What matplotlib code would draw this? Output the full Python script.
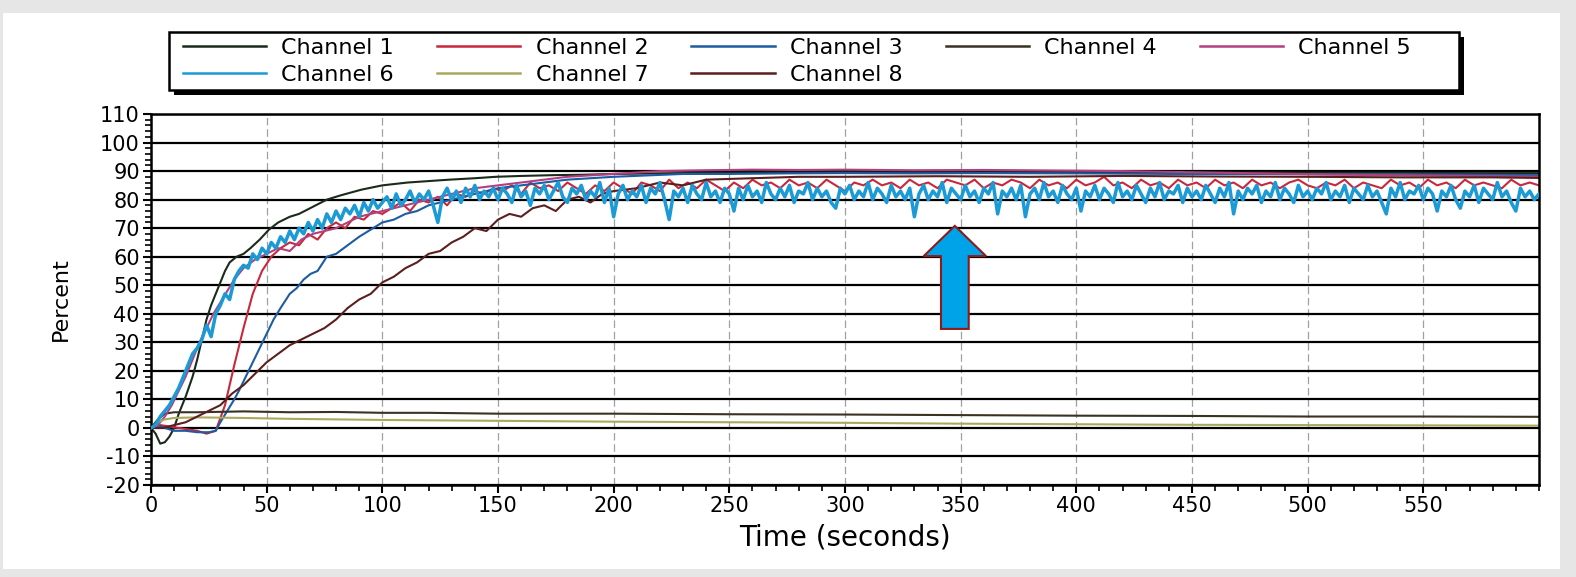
import numpy as np
import matplotlib.pyplot as plt
from matplotlib.patches import Rectangle, FancyArrow
from matplotlib.ticker import MultipleLocator

plt.rcParams['axes.unicode_minus'] = False

# values: percent vs time (seconds)
t_ch1 = [0, 2, 4, 6, 8, 10, 12, 15, 18, 20, 22, 24, 26, 28, 30, 32, 34, 37, 40, 43,
         47, 51, 55, 60, 64, 70, 76, 82, 91, 100, 111, 120, 129, 140, 149, 160, 175, 186, 200, 220,
         240, 260, 280, 300, 330, 360, 390, 420, 450, 480, 510, 540, 570, 600]
v_ch1 = [0, -2, -5.5, -5, -3, 0, 5, 11, 18, 24, 31, 38, 43, 47, 51, 55, 58, 60, 61, 63,
         66, 69.5, 72, 74, 75, 77.5, 80, 81.5, 83.5, 85, 86, 86.5, 87, 87.5, 88, 88.3, 88.6, 88.7, 89, 89.2,
         89.4, 89.5, 89.5, 89.6, 89.5, 89.6, 89.5, 89.5, 89.4, 89.5, 89.4, 89.4, 89.3, 89.3]

t_ch2 = np.arange(0, 601, 4)
v_ch2 = [0, 1, 0.5, 0, -0.5, -1, -2, -1, 8, 22,
         35, 47, 55, 60, 63, 65, 64, 68, 66, 70,
         72, 70, 74, 73, 76, 75, 77, 79, 76, 80,
         79, 81, 78, 82, 81, 83, 82, 84,
         83, 85, 82, 86, 84, 85, 83, 86, 84, 82,
         85, 83, 86, 84, 82, 86, 85, 83, 87, 84,
         86, 84, 87, 85, 83, 86, 84, 87, 85, 86,
         84, 87, 85, 86, 84, 87, 85, 83, 86, 85,
         87, 85, 86, 84, 87, 85, 86, 84, 87, 86,
         85, 87, 84, 86, 85, 87, 86, 84, 87, 85,
         86, 84, 87, 85, 86, 88, 85, 86, 84, 87,
         85, 86, 84, 87, 85, 86, 84, 87, 85, 86,
         84, 87, 85, 86, 84, 86, 87, 85, 84, 86,
         85, 87, 84, 86, 85, 84, 87, 85, 86, 84,
         87, 85, 86, 84, 87, 85, 86, 85, 84, 87,
         85, 86, 85]

t_ch3 = [0, 3, 6, 10, 15, 20, 25, 28, 30, 33, 36, 38, 41, 44, 47, 50, 53, 56, 60, 63,
         66, 69, 72, 76, 80, 85, 90, 96, 100, 105, 110, 115, 120, 125, 130, 140, 150, 160, 170, 180,
         190, 200, 215, 230, 250, 275, 300, 330, 360, 400, 440, 480, 520, 560, 600]
v_ch3 = [0, 1, 0, -1, -1, -1.5, -1.5, -1, 2, 6, 10, 13, 18, 23, 28, 33, 38, 42, 47, 49,
         52, 54, 55, 60, 61, 64, 67, 70, 72, 73, 75, 76, 78, 79, 80, 82, 84, 85, 86, 87,
         87.5, 88, 88.5, 89, 89, 89.2, 89.3, 89.2, 89.3, 89.2, 89, 89, 88.8, 88.8, 88.6]

t_ch4 = [0, 3, 6, 10, 20, 40, 60, 80, 100, 120, 150, 200, 250, 300, 350, 400, 450, 500, 550, 600]
v_ch4 = [0, 3, 5, 5.5, 5.5, 5.8, 5.5, 5.6, 5.3, 5.3, 5.0, 5.0, 4.8, 4.7, 4.5, 4.3, 4.2, 4.0, 4.0, 3.9]

t_ch5 = [0, 3, 6, 9, 12, 15, 18, 21, 24, 27, 30, 33, 36, 40, 45, 50, 55, 60, 65, 70,
         75, 80, 85, 90, 95, 100, 110, 120, 130, 140, 150, 160, 170, 180, 190, 200, 210, 220, 240, 260,
         280, 300, 330, 360, 390, 420, 450, 480, 510, 540, 570, 600]
v_ch5 = [0, 1, 4, 8, 13, 18, 24, 30, 35, 40, 44, 48, 52, 56, 59, 61, 63, 62, 66, 68,
         69, 70, 72, 74, 75, 76, 78, 80, 82, 84, 85, 86, 87, 88, 88.5, 89, 89.5, 90, 90.3, 90.5,
         90.4, 90.5, 90.3, 90.4, 90.2, 90, 89.6, 89.2, 88.8, 88.5, 88.3, 88]

t_ch6 = np.arange(0, 601, 2)
v_ch6 = [0, 1, 4, 6, 8, 11, 14, 18, 22, 26,
         28, 31, 36, 32, 40, 43, 47, 45, 52, 55,
         57, 56, 61, 59, 63, 61, 65, 63, 67, 65,
         69, 66, 70, 68, 72, 69, 73, 70, 75, 72,
         76, 73, 77, 75, 78, 74, 79, 76, 80, 77,
         79, 81, 77, 82, 78, 80, 83, 79, 82, 80,
         83, 78, 72, 81, 84, 80, 83, 79, 84, 81,
         85, 80, 83, 81, 84,
         80, 84, 82, 79, 85, 81, 83, 78, 84, 82,
         85, 80, 83, 86, 81, 79, 84, 82, 85, 80,
         83, 81, 86, 79, 84, 74, 82, 85, 80, 83,
         81, 85, 79, 84, 82, 86, 80, 73, 83, 81,
         84, 79, 85, 82, 80, 86, 81, 83, 79, 84,
         82, 76, 84, 80, 85, 81, 83, 79, 86, 82,
         80, 84, 81, 85, 79, 83, 82, 86, 80, 84,
         81, 83, 79, 77, 84, 82, 85, 80, 83, 81,
         86, 80, 84, 82, 79, 85, 81, 83, 80, 84,
         74, 82, 85, 80, 83, 81, 86, 79, 84, 82,
         80, 85, 81, 83, 79, 84, 82, 86, 75, 83,
         81, 84, 80, 85, 74, 82, 84, 80, 86, 81,
         83, 79, 85, 82, 80, 84, 76, 83, 81, 85,
         80, 84, 82, 79, 86, 81, 83, 80, 85, 82,
         79, 84, 81, 86, 80, 83, 82, 85, 79, 84,
         81, 83, 80, 85, 82, 79, 84, 81, 86, 75,
         83, 80, 84, 82, 85, 79, 83, 81, 86, 80,
         84, 82, 79, 85, 81, 83, 80, 84, 82, 86,
         80, 83, 81, 85, 79, 84, 82, 80, 85, 81,
         83, 79, 75, 84, 81, 86, 80, 83, 82, 85,
         80, 84, 82, 76, 83, 81, 85, 80, 77, 83,
         81, 85, 79, 84, 82, 80, 86, 81, 83, 79,
         76, 84, 81, 83, 80, 82]

t_ch7 = [0, 3, 6, 10, 20, 40, 60, 80, 100, 150, 200, 250, 300, 350, 400, 450, 500, 550, 600]
v_ch7 = [0, 2, 3, 3.5, 3.7, 3.5, 3.2, 3.0, 2.8, 2.5, 2.2, 2.0, 1.8, 1.5, 1.3, 1.1, 1.0, 0.9, 0.8]

t_ch8 = [0, 5, 10, 15, 20, 25, 30, 35, 40, 45, 50, 55, 60, 65, 70, 75, 80, 85, 90, 95,
         100, 105, 110, 115, 120, 125, 130, 135, 140, 145, 150, 155, 160, 165, 170, 175, 180, 185, 190, 195,
         200, 210, 220, 230, 240, 260, 280, 300, 340, 380, 420, 460, 500, 540, 580, 600]
v_ch8 = [0, 0, 1, 2, 4, 6, 8, 12, 15, 19, 23, 26, 29, 31, 33, 35, 38, 42, 45, 47,
         51, 53, 56, 58, 61, 62, 65, 67, 70, 69, 73, 75, 74, 77, 78, 76, 80, 81, 79, 82,
         83, 84, 86, 85, 87, 87.5, 88, 88, 88.2, 88, 88.3, 88.1, 88, 87.8, 87.8, 87.6]

names = ['Channel 1', 'Channel 2', 'Channel 3', 'Channel 4',
         'Channel 5', 'Channel 6', 'Channel 7', 'Channel 8']
colors = ['#1a2b1c', '#c8283c', '#1d5ba3', '#3a3322',
          '#b3407e', '#1b9ad6', '#a9a95e', '#5b1f1f']
series = [(t_ch1, v_ch1), (t_ch2, v_ch2), (t_ch3, v_ch3), (t_ch4, v_ch4),
          (t_ch5, v_ch5), (t_ch6, v_ch6), (t_ch7, v_ch7), (t_ch8, v_ch8)]

fig = plt.figure(figsize=(15.76, 5.77), dpi=100, facecolor='#e6e6e6')
# white panel inside the grey border
fig.add_artist(Rectangle((0.0019, 0.0139), 0.988, 0.9636, transform=fig.transFigure,
                         fc='white', ec='none', zorder=-1))

ax = fig.add_axes([0.0958, 0.1594, 0.8807, 0.6430])

handles = []
for i, (t, v) in enumerate(series):
    lw = 2.5 if i == 5 else 1.5
    z = 3 if i == 5 else 2
    h, = ax.plot(t, v, color=colors[i], lw=lw, label=names[i], zorder=z)
    handles.append(h)

ax.set_xlim(0, 600)
ax.set_ylim(-20, 110)
ax.set_xticks(range(0, 551, 50))
ax.set_yticks(range(-20, 111, 10))
ax.xaxis.set_minor_locator(MultipleLocator(10))
ax.yaxis.set_minor_locator(MultipleLocator(2))
ax.tick_params(which='major', direction='out', length=6, width=1.5, labelsize=15, pad=2)
ax.tick_params(which='minor', direction='out', length=4, width=1.2)
for s in ax.spines.values():
    s.set_linewidth(1.8)

ax.set_axisbelow(True)
ax.yaxis.grid(True, which='major', color='black', lw=1.6)
ax.xaxis.grid(True, which='major', color='#a0a0a0', lw=0.9, ls=(0, (6, 3)))

ax.set_xlabel('Time (seconds)', fontsize=20)
ax.xaxis.set_label_coords(0.5, -0.105)
ax.set_ylabel('Percent', fontsize=16)
ax.yaxis.set_label_coords(-0.058, 0.5)

# blue arrow pointing at channel 6
ax.add_patch(FancyArrow(347.5, 34.7, 0, 36.1, width=12, head_width=27, head_length=10.6,
                        length_includes_head=True, fc='#00a3e8', ec='#8b1c1c', lw=1.5, zorder=6))

# legend box with a hard shadow
fig.add_artist(Rectangle((174 / 1576, 1 - 95 / 577), 1290 / 1576, 58 / 577,
                         transform=fig.transFigure, fc='black', ec='none', zorder=1))
fig.add_artist(Rectangle((169 / 1576, 1 - 90 / 577), 1290 / 1576, 58 / 577,
                         transform=fig.transFigure, fc='white', ec='black', lw=1.8, zorder=1.1))

order = [0, 5, 1, 6, 2, 7, 3, 4]
leg = fig.legend([handles[k] for k in order], [names[k] for k in order],
                 loc='upper left', bbox_to_anchor=(0.1161, 0.935), ncol=5, frameon=False,
                 fontsize=16, handlelength=3.75, handletextpad=0.68, columnspacing=1.94,
                 labelspacing=0.33, borderpad=0, borderaxespad=0)
for line in leg.get_lines():
    line.set_linewidth(1.8)

fig.savefig('out.png', dpi=100, facecolor=fig.get_facecolor())
